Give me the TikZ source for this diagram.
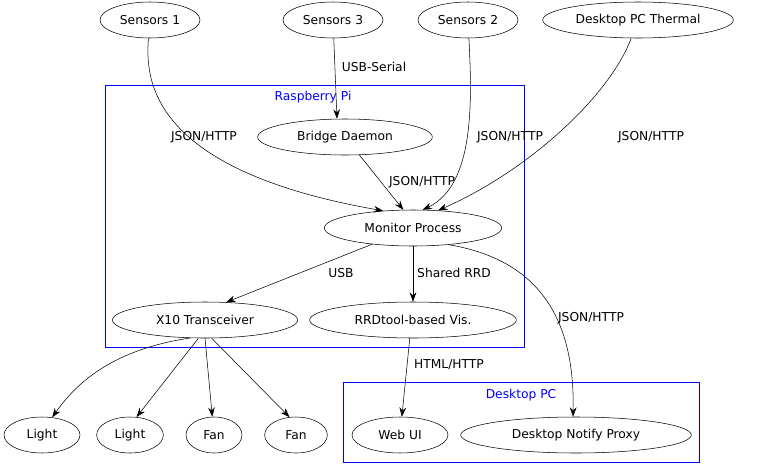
\documentclass[tikz,border=0pt]{standalone}
\usepackage{fontspec}
\setmainfont{DejaVu Sans}
\usetikzlibrary{shapes.geometric,arrows.meta}
\begin{document}
\begin{tikzpicture}[x=0.75pt,y=-0.75pt,
  every node/.style={font=\fontsize{9.2}{11}\selectfont},
  el/.style={ellipse,draw,inner sep=0,minimum height=27pt},
  ar/.style={-{Stealth[length=7pt,width=5pt]},black},
  lab/.style={fill=none},
  cl/.style={draw=blue},
  cll/.style={text=blue}]
\useasboundingbox (0,0) rectangle (768,475);
\draw[cl] (105,85) rectangle (524,347);
\node[cll] (rpi) at (313,97) {Raspberry Pi};
\draw[cl] (343,382) rectangle (699,462);
\node[cll] (dpc) at (521,395) {Desktop PC};
\node[el,minimum width=75pt] (s1) at (150,20) {Sensors 1};
\node[el,minimum width=75pt] (s3) at (333,20) {Sensors 3};
\node[el,minimum width=75pt] (s2) at (468,20) {Sensors 2};
\node[el,minimum width=143pt] (th) at (638,20) {Desktop PC Thermal};
\node[el,minimum width=131pt] (bd) at (345,137) {Bridge Daemon};
\node[el,minimum width=133pt] (mp) at (413,228) {Monitor Process};
\node[el,minimum width=139pt] (x10) at (205,320) {X10 Transceiver};
\node[el,minimum width=155pt] (rrd) at (413,320) {RRDtool-based Vis.};
\node[el,minimum width=57pt] (l1) at (42,435) {Light};
\node[el,minimum width=50pt] (l2) at (130,435) {Light};
\node[el,minimum width=42pt] (f1) at (214,435) {Fan};
\node[el,minimum width=47pt] (f2) at (296,435) {Fan};
\node[el,minimum width=72pt] (web) at (400,435) {Web UI};
\node[el,minimum width=173pt] (np) at (576,435) {Desktop Notify Proxy};
\draw[ar] (s1) .. controls (145,80) and (150,170) .. (mp.150);
\node (e1) at (204,137) {JSON/HTTP};
\draw[ar] (s3) -- (bd.north -| 337,0) ;
\node (e2) at (374,67) {USB-Serial};
\draw[ar] (s2) .. controls (472,100) and (475,185) .. (mp.62);
\node (e3) at (510,137) {JSON/HTTP};
\draw[ar] (th) .. controls (610,95) and (530,170) .. (mp.35);
\node (e4) at (651,137) {JSON/HTTP};
\draw[ar] (bd) -- (mp.118);
\node (e5) at (422,182) {JSON/HTTP};
\draw[ar] (mp) -- (x10.40);
\node (e6) at (341,273) {USB};
\draw[ar] (mp) -- (rrd);
\node (e7) at (454,273) {Shared RRD};
\draw[ar] (mp.-25) .. controls (540,260) and (575,320) .. (np.north -| 573,0);
\node (e8) at (591,318) {JSON/HTTP};
\draw[ar] (x10.-130) .. controls (110,350) and (75,385) .. (l1.60);
\draw[ar] (x10.-110) -- (l2.70);
\draw[ar] (x10.-90) -- (f1);
\draw[ar] (x10.-70) -- (f2.110);
\draw[ar] (rrd.-100) -- (web);
\node (e9) at (449,365) {HTML/HTTP};
\end{tikzpicture}
\end{document}
